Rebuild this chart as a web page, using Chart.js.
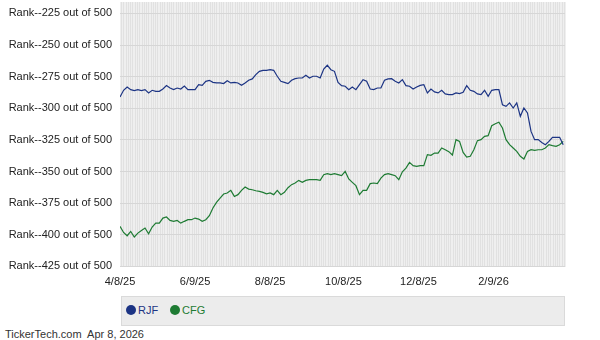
<!DOCTYPE html>
<html lang="en">
<head>
  <meta charset="UTF-8" />
  <title>RJF vs CFG rank</title>
  <script src="https://cdn.jsdelivr.net/npm/chart.js@4.4.0/dist/chart.umd.min.js"></script>
  <style>
    body {
      margin: 0;
      background: #fff;
      font-family: Arial, "Liberation Sans", sans-serif;
    }
    .wrap {
      position: relative;
      width: 600px;
      height: 340px;
      overflow: hidden;
    }
    #chartBox {
      position: absolute;
      left: 0;
      top: 0;
      width: 600px;
      height: 292px;
    }
    .legend {
      position: absolute;
      left: 121px;
      top: 296px;
      width: 442px;
      height: 28px;
      background: #ececec;
      border: 1px solid #dadada;
      font-size: 11px;
    }
    .item {
      position: absolute;
      top: 7px;
      line-height: 13px;
    }
    .dot {
      display: inline-block;
      width: 10px;
      height: 10px;
      border-radius: 50%;
      vertical-align: -1px;
      margin-right: 2px;
    }
    .footer {
      position: absolute;
      left: 5px;
      top: 328px;
      font-size: 11px;
      color: #333;
      white-space: pre;
    }
  </style>
</head>
<body>
  <div class="wrap">
    <div id="chartBox"><canvas id="rankChart"></canvas></div>
    <div class="legend">
      <span class="item" style="left:4px;color:#1c3484"><span class="dot" style="background:#1c3484"></span>RJF</span>
      <span class="item" style="left:48px;color:#1e7b33"><span class="dot" style="background:#1e7b33"></span>CFG</span>
    </div>
    <div class="footer">TickerTech.com  Apr 8, 2026</div>
  </div>

  <script>
    // every second trading day, 4/8/25 .. 4/8/26
    const sampleStep = 2;
    const stripeCount = 250;

    const rjfRank = [
      291.1, 285.8, 283.2, 285.3, 286.1, 285.3, 286.1, 285.3, 287.9, 285.8,
      286.6, 286.6, 284.8, 282.1, 284.0, 285.3, 284.0, 284.8, 282.4, 285.3,
      285.3, 285.3, 281.3, 281.9, 278.7, 277.9, 279.5, 280.0, 280.0, 280.5,
      278.2, 280.0, 279.5, 280.0, 281.9, 280.0, 277.9, 276.8, 273.4, 270.8,
      270.0, 270.0, 269.5, 270.0, 274.7, 278.7, 279.5, 280.5, 277.9, 276.6,
      276.1, 276.1, 274.0, 276.1, 274.7, 274.7, 276.1, 269.0, 266.0, 269.5,
      270.8, 279.5, 282.1, 282.6, 285.3, 283.2, 285.3, 281.3, 277.4, 278.7,
      284.8, 285.3, 284.0, 284.0, 277.9, 276.8, 276.6, 278.7, 280.0, 277.4,
      282.1, 282.6, 284.8, 283.2, 281.9, 281.3, 287.9, 284.8, 287.1, 287.9,
      285.8, 288.7, 289.2, 289.2, 287.9, 288.4, 287.4, 282.1, 285.8, 286.6,
      288.7, 289.2, 285.8, 290.6, 285.8, 285.3, 285.3, 297.2, 298.5, 295.8,
      299.8, 295.8, 306.4, 299.8, 303.7, 318.3, 324.8, 324.8, 327.0, 328.8,
      326.2, 323.0, 323.0, 323.0, 328.8
    ];

    const cfgRank = [
      393.4, 398.2, 400.8, 397.4, 401.8, 398.7, 396.6, 394.7, 399.2, 393.9,
      390.8, 390.8, 386.8, 386.0, 388.7, 389.4, 388.7, 390.8, 389.4, 388.1,
      388.1, 386.8, 387.6, 389.4, 388.1, 385.0, 378.9, 374.4, 371.0, 367.8,
      367.0, 364.9, 369.7, 368.3, 364.9, 362.3, 363.9, 364.4, 365.2, 365.7,
      366.5, 367.6, 367.0, 368.3, 364.9, 368.3, 366.5, 362.8, 360.4, 359.1,
      357.0, 358.6, 357.0, 356.5, 356.5, 356.5, 357.0, 352.5, 351.7, 352.5,
      351.7, 352.5, 353.3, 349.9, 355.9, 358.6, 361.2, 368.3, 364.9, 364.9,
      359.6, 359.1, 359.6, 355.2, 352.5, 351.7, 352.5, 353.3, 356.5, 350.2,
      347.3, 342.8, 345.4, 345.9, 345.4, 345.4, 336.7, 337.2, 335.4, 335.4,
      331.4, 332.8, 334.3, 337.0, 324.8, 326.2, 334.9, 338.6, 338.0, 332.8,
      325.6, 324.8, 322.2, 321.7, 313.8, 312.2, 311.1, 315.6, 324.8, 328.8,
      331.4, 334.1, 338.0, 340.1, 334.1, 332.8, 333.3, 332.8, 332.8, 331.4,
      328.8, 329.6, 330.1, 328.8, 326.2
    ];

    const xTickPos = [0, 42, 84, 125, 167, 209];
    const xTickLabels = ['4/8/25', '6/9/25', '8/8/25', '10/8/25', '12/8/25', '2/9/26'];
    const yTicks = [225, 250, 275, 300, 325, 350, 375, 400, 425];

    const toPoints = arr => arr.map((v, i) => ({ x: i * sampleStep, y: v }));

    // grey plot area with one light stripe per trading day
    const plotBg = {
      id: 'plotBg',
      beforeDraw(chart) {
        const { ctx, chartArea: a, scales: { x } } = chart;
        ctx.save();
        ctx.fillStyle = '#e1e1e1';
        ctx.fillRect(a.left, a.top, a.right - a.left, a.bottom - a.top);
        ctx.strokeStyle = '#efefef';
        ctx.lineWidth = 1;
        ctx.beginPath();
        for (let k = 0; k < stripeCount; k++) {
          const px = Math.round(x.getPixelForValue(k)) + 0.5;
          ctx.moveTo(px, a.top);
          ctx.lineTo(px, a.bottom);
        }
        ctx.stroke();
        ctx.restore();
      }
    };

    const font = { family: 'Arial, "Liberation Sans", sans-serif', size: 11 };

    new Chart(document.getElementById('rankChart'), {
      type: 'line',
      data: {
        datasets: [
          {
            label: 'RJF',
            data: toPoints(rjfRank),
            borderColor: '#1c3484',
            borderWidth: 1.2,
            pointRadius: 0,
            tension: 0
          },
          {
            label: 'CFG',
            data: toPoints(cfgRank),
            borderColor: '#1e7b33',
            borderWidth: 1.2,
            pointRadius: 0,
            tension: 0
          }
        ]
      },
      options: {
        responsive: true,
        maintainAspectRatio: false,
        animation: false,
        layout: { padding: { top: 2, right: 35, left: 0, bottom: 0 } },
        plugins: {
          legend: { display: false },
          tooltip: { enabled: false }
        },
        scales: {
          x: {
            type: 'linear',
            min: 0,
            max: 249,
            grid: { display: false, drawTicks: false },
            border: { display: false },
            afterBuildTicks: s => { s.ticks = xTickPos.map(v => ({ value: v })); },
            afterFit: s => {
              s.height = 25;
              s.paddingLeft = 0;
              s.paddingRight = 0;
            },
            ticks: {
              autoSkip: false,
              maxRotation: 0,
              padding: 8,
              color: '#222',
              font: font,
              callback: v => {
                const i = xTickPos.indexOf(v);
                return i >= 0 ? xTickLabels[i] : '';
              }
            }
          },
          y: {
            type: 'linear',
            reverse: true,
            min: 216,
            max: 425.5,
            grid: { color: '#d6d6d6', drawTicks: false },
            border: { display: false },
            afterBuildTicks: s => { s.ticks = yTicks.map(v => ({ value: v })); },
            afterFit: s => {
              s.width = 120;
              s.paddingTop = 0;
              s.paddingBottom = 0;
            },
            ticks: {
              padding: 8,
              color: '#222',
              font: font,
              callback: v => 'Rank--' + v + ' out of 500'
            }
          }
        }
      },
      plugins: [plotBg]
    });
  </script>
</body>
</html>
